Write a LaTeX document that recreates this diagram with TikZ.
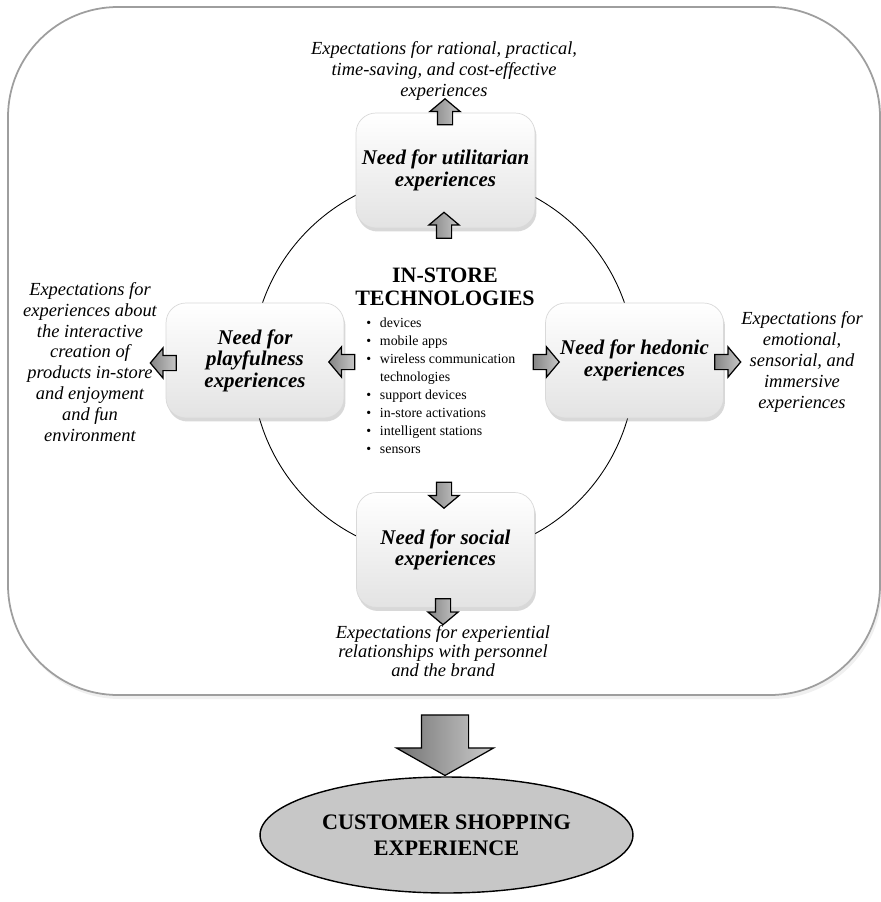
\documentclass[tikz,border=0pt]{standalone}
\usepackage{fontspec}
\setmainfont{Liberation Serif}
\usetikzlibrary{shapes.arrows,shapes.geometric,shadows}

\tikzset{
  need/.style={rectangle, rounded corners=0.4cm, minimum width=3.56cm, minimum height=2.3cm,
    draw=black!15, line width=0.4pt, top color=white, bottom color=black!11, align=center,
    drop shadow={opacity=0.3, shadow xshift=0.03cm, shadow yshift=-0.07cm},
    font=\fontsize{11.9}{12.2}\selectfont\bfseries\itshape},
  expect/.style={align=center, font=\fontsize{10.5}{11.9}\selectfont\itshape},
  blockarrow/.style={single arrow, draw=black, line width=0.7pt, left color=black!48, right color=black!22,
    inner sep=0.14cm, single arrow head extend=0.15cm, minimum height=0.52cm, single arrow tip angle=100},
}

\begin{document}
\begin{tikzpicture}[x=0.02cm, y=-0.02cm]
\useasboundingbox (0,0) rectangle (881,902);

% outer frame
\draw[draw=black!38, line width=1pt, rounded corners=2.2cm, fill=white,
  drop shadow={opacity=0.12, shadow xshift=0.04cm, shadow yshift=-0.08cm}] (8,7) rectangle (880,695);

% technologies in the middle
\coordinate (mid) at (443.5,365.5);
\draw[line width=0.5pt] (mid) circle (3.83cm);

\node[font=\fontsize{12.5}{13}\selectfont\bfseries, align=center] (tech) at (445,287) {IN-STORE\\TECHNOLOGIES};
\node[anchor=north west, inner sep=0pt, font=\fontsize{7.9}{10.2}\selectfont] (list) at (366,315) {%
  \begin{tabular}{@{}c@{\hspace{5pt}}l@{}}
  \textbullet & devices\\
  \textbullet & mobile apps\\
  \textbullet & wireless communication\\
   & technologies\\
  \textbullet & support devices\\
  \textbullet & in-store activations\\
  \textbullet & intelligent stations\\
  \textbullet & sensors
  \end{tabular}};

% the four needs
\node[need] (util) at (445.5,170.5) {Need for utilitarian\\experiences};
\node[need] (play) at (255,360.5) {Need for\\playfulness\\experiences};
\node[need] (hedo) at (634.5,360.5) {Need for hedonic\\experiences};
\node[need] (soci) at (445.5,550) {Need for social\\experiences};

% expectations
\node[expect] (eutil) at (444,71) {Expectations for rational, practical,\\time-saving, and cost-effective\\experiences};
\node[expect] (eplay) at (90,362) {Expectations for\\experiences about\\the interactive\\creation of\\products in-store\\and enjoyment\\and fun\\environment};
\node[expect] (ehedo) at (802,362) {Expectations for\\emotional,\\sensorial, and\\immersive\\experiences};
\node[expect, font=\fontsize{10.5}{11}\selectfont\itshape] (esoci) at (443,651) {Expectations for experiential\\relationships with personnel\\and the brand};

% block arrows
\node[blockarrow, shape border rotate=90] (au1) at (445,115) {};
\node[blockarrow, shape border rotate=90] (au2) at (444,228.5) {};
\node[blockarrow, shape border rotate=180] (ap1) at (166.5,363) {};
\node[blockarrow, shape border rotate=180] (ap2) at (345,362) {};
\node[blockarrow] (ah2) at (543,362) {};
\node[blockarrow] (ah1) at (724.5,362) {};
\node[blockarrow, shape border rotate=270] (as2) at (444,492) {};
\node[blockarrow, shape border rotate=270] (as1) at (443,608.5) {};

% result
\node[blockarrow, shape border rotate=270, inner sep=0.46cm, single arrow head extend=0.5cm,
  minimum height=1.06cm, single arrow tip angle=121, left color=black!55, right color=black!20] (abig) at (445,738.5) {};
\node[ellipse, draw=black, line width=0.8pt, fill=black!22, minimum width=7.46cm, minimum height=2.32cm,
  align=center, font=\fontsize{12.6}{14.7}\selectfont\bfseries] (cse) at (446.5,835) {CUSTOMER SHOPPING\\EXPERIENCE};

\end{tikzpicture}
\end{document}
